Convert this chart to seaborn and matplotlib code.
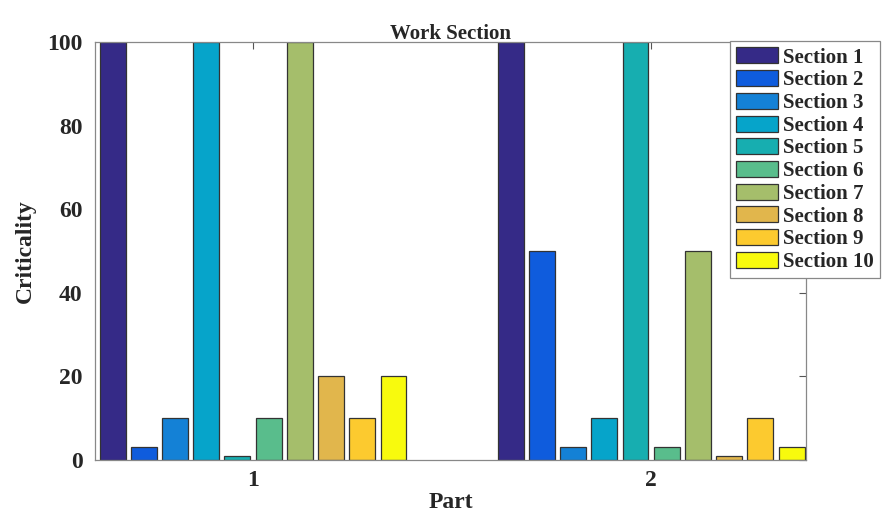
import numpy as np
import pandas as pd
import seaborn as sns
import matplotlib.pyplot as plt

# Data
parts = ['1', '2']
sections = ['Section %d' % i for i in range(1, 11)]
part1 = [100, 3, 10, 100, 1, 10, 100, 20, 10, 20]
part2 = [100, 50, 3, 10, 100, 3, 50, 1, 10, 3]

# parula-like colours
colors = ['#352a87', '#0f5cdd', '#1481d6', '#06a4ca', '#17aeb0',
          '#59bd8c', '#a5be6b', '#e1b64c', '#fcca2f', '#f8fa0d']

df = pd.DataFrame({
    'Part': np.repeat(parts, len(sections)),
    'Section': sections * len(parts),
    'Criticality': part1 + part2,
})

sns.set_style('white')
plt.rcParams['font.family'] = ['Liberation Serif', 'DejaVu Serif']
plt.rcParams['font.weight'] = 'bold'

fig = plt.figure(figsize=(8.96, 5.15), dpi=100)
ax = fig.add_axes([0.106, 0.107, 0.794, 0.811])

sns.barplot(data=df, x='Part', y='Criticality', hue='Section',
            palette=colors, width=0.784, gap=0.17, ax=ax,
            edgecolor='#333333', linewidth=0.9, saturation=1, legend=True)

ax.set_xlim(-0.397, 1.39)
ax.set_ylim(0, 100)
ax.set_yticks(range(0, 101, 20))
ax.tick_params(direction='in', length=5, width=0.8, color='#555555',
               top=True, right=True, labelsize=17)
ax.tick_params(axis='x', pad=7)
ax.tick_params(axis='y', pad=9)
for s in ax.spines.values():
    s.set_color('#888888')
    s.set_linewidth(0.9)

ax.set_title('Work Section', fontsize=15, fontweight='bold', pad=2)
ax.set_xlabel('Part', fontsize=17, fontweight='bold', labelpad=1)
ax.set_ylabel('Criticality', fontsize=17, fontweight='bold', labelpad=8)

handles, labels = ax.get_legend_handles_labels()
ax.get_legend().remove()
leg = fig.legend(handles, labels, loc='upper left', bbox_to_anchor=(0.815, 0.92),
                 fontsize=15, frameon=True, fancybox=False, framealpha=1,
                 edgecolor='#888888', labelspacing=0.12, handlelength=2.0,
                 handleheight=0.8, handletextpad=0.25, borderpad=0.3,
                 borderaxespad=0)
leg.get_frame().set_linewidth(0.9)
for t in leg.get_texts():
    t.set_fontweight('bold')

fig.savefig('out.png', dpi=100)
